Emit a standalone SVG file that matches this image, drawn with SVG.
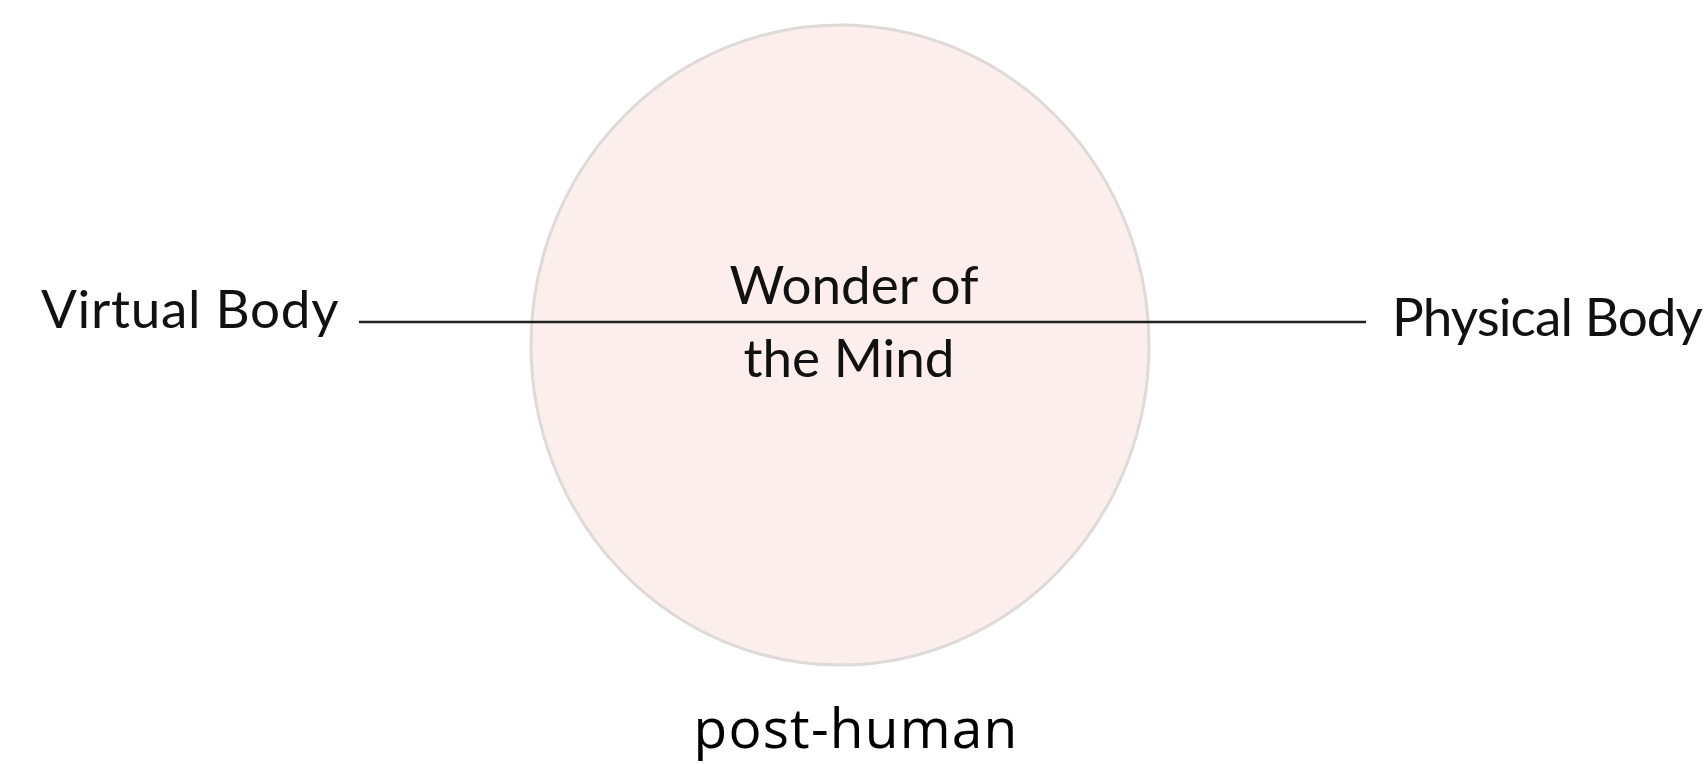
<svg xmlns="http://www.w3.org/2000/svg" width="1706" height="764" viewBox="0 0 1706 764">
<style>
.lbl{font-family:Lato,"Noto Sans",sans-serif;font-size:53px;fill:#111}
.big{font-family:"Open Sans","Noto Sans",sans-serif;font-size:55px;fill:#000}
</style>
<rect width="1706" height="764" fill="#fff"/>
<g id="mind">
<ellipse cx="840" cy="345" rx="309" ry="320" fill="#fdeeee" stroke="#dddad8" stroke-width="3"/>
</g>
<g id="connectors">
<line x1="359" y1="322" x2="1366" y2="322" stroke="#222" stroke-width="2.5"/>
</g>
<g id="virtual">
<text class="lbl" x="41" y="328" letter-spacing="0.7">Virtual Body</text>
</g>
<g id="physical">
<text class="lbl" x="1392" y="336" letter-spacing="-0.9">Physical Body</text>
</g>
<g id="wonder">
<text class="lbl" x="854" y="304" text-anchor="middle">Wonder of</text>
<text class="lbl" x="849" y="377" text-anchor="middle">the Mind</text>
</g>
<g id="posthuman">
<text class="big" x="856" y="748" text-anchor="middle" letter-spacing="1.2">post-human</text>
</g>
</svg>
